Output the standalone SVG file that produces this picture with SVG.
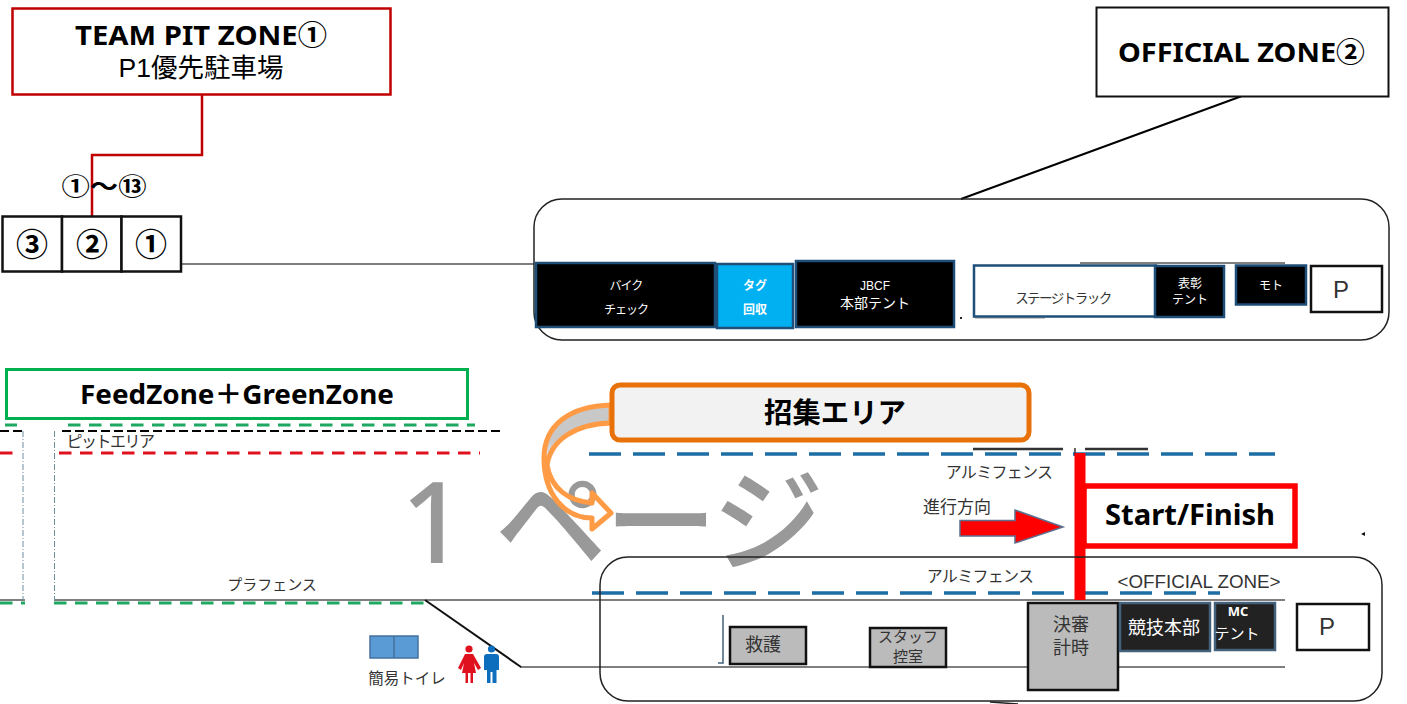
<svg xmlns="http://www.w3.org/2000/svg" width="1407" height="704" viewBox="0 0 1407 704">
<defs><linearGradient id="fade" gradientUnits="userSpaceOnUse" x1="0" y1="440" x2="0" y2="475"><stop offset="0" stop-color="#c8c8c8"/><stop offset="1" stop-color="#c8c8c8" stop-opacity="0"/></linearGradient></defs>
<style>
text{font-family:"Liberation Sans","Noto Sans CJK JP",sans-serif;text-anchor:middle;fill:#000}
.b{font-weight:700;font-family:"Noto Sans","Noto Sans CJK JP",sans-serif}
.w{fill:#fff}
.g{fill:#333}
.l{fill:none;stroke:#555;stroke-width:1.3}
.zone{fill:none;stroke:#222;stroke-width:1.5}
.dk{fill:#000;stroke:#1f4e79;stroke-width:2.5}
.dk2{fill:#222;stroke:#44617b;stroke-width:2.5}
.gr{fill:#bbb;stroke:#111;stroke-width:2.5}
.box{fill:#fff;stroke:#111;stroke-width:2.5}
.bl{fill:none;stroke:#1c6ea4;stroke-width:3.5;stroke-dasharray:32 12}
.gn{fill:none;stroke:#1fa862;stroke-width:3;stroke-dasharray:12.5 8.5}
.rd{fill:none;stroke:#e0111f;stroke-width:3;stroke-dasharray:12.5 8.5}
.kd{fill:none;stroke:#000;stroke-width:1.8;stroke-dasharray:9 4}
.thin{fill:none;stroke:#6f8f9f;stroke-width:1;stroke-dasharray:6 2 1 2}
.s{letter-spacing:-1px}
.m{font-size:16px;letter-spacing:-.7px}
</style>
<g id="watermark"><text y="563" font-size="112" font-weight="500" style="fill:#999;text-anchor:start;font-family:'Noto Sans','Noto Sans CJK JP',sans-serif"><tspan x="401">1</tspan><tspan x="495">ペ</tspan><tspan x="605">ー</tspan><tspan x="712">ジ</tspan></text></g>
<g id="connectors">
<path class="l" d="M181 264H534"/>
<path fill="none" stroke="#c00000" stroke-width="2.5" d="M202 95V155H92V216"/>
<path fill="none" stroke="#000" stroke-width="2" d="M1242 96L961 199"/>
<path class="l" d="M1080 263H1285"/>
<path class="l" d="M0 600H25M54 600H1285"/>
<path class="l" d="M520 667H1285"/>
<path fill="none" stroke="#111" stroke-width="2" d="M425 600L521 667"/>
<path fill="none" stroke="#44617b" stroke-width="1.5" d="M723 615V663H718"/>
<path fill="none" stroke="#222" stroke-width="1.5" d="M990 702L1018 704"/>
<path fill="none" stroke="#888" stroke-width="1" d="M975 318H1045"/>
<path fill="#222" d="M960 317h2v2h-2z"/>
<path class="gn" d="M5 425H17M68 425H475"/>
<path class="kd" d="M0 431H22M62 431H500"/>
<path class="rd" d="M0 453H21M59 453H480"/>
<path class="thin" d="M23 431V600M54.500 431V600"/>
<path class="gn" d="M0 603H25M54 603H424"/>
<path class="bl" d="M589 454H1275"/>
<path class="bl" d="M592 593H1220"/>
<path fill="none" stroke="#333" stroke-width="2.500" d="M973 449H1063M1085 449H1148"/>
<path fill="none" stroke="#333" stroke-width="1.500" d="M1075 448V456"/>
<path fill="none" stroke="#f00" stroke-width="11" d="M1080 453V600"/>
<path fill="#111" d="M1361 534l4-2 0 4z"/>
</g>
<g id="team-pit-zone"><rect x="12.500" y="8.500" width="378" height="86" fill="#fff" stroke="#c00000" stroke-width="2.500"/>
<text class="b" x="201" y="45" font-size="27" textLength="252" lengthAdjust="spacingAndGlyphs">TEAM PIT ZONE①</text><text x="201" y="77" font-size="26.500">P1優先駐車場</text></g>
<g id="official-zone-2"><rect x="1096.500" y="7.500" width="292" height="89" fill="#fff" stroke="#111" stroke-width="2"/>
<text class="b" x="1241.500" y="62" font-size="27" textLength="247" lengthAdjust="spacingAndGlyphs">OFFICIAL ZONE②</text></g>
<g id="range-label"><text class="b" x="104" y="195" font-size="24" textLength="85" lengthAdjust="spacingAndGlyphs">①～⑬</text></g>
<g id="pit-3"><rect x="2.500" y="216.500" width="59.500" height="55" fill="#fff" stroke="#111" stroke-width="2.500"/><text class="b" x="32" y="256" font-size="32">③</text></g>
<g id="pit-2"><rect x="62" y="216.500" width="59.500" height="55" fill="#fff" stroke="#111" stroke-width="2.500"/><text class="b" x="92" y="256" font-size="32">②</text></g>
<g id="pit-1"><rect x="121.500" y="216.500" width="59.500" height="55" fill="#fff" stroke="#111" stroke-width="2.500"/><text class="b" x="151" y="256" font-size="32">①</text></g>
<g id="official-area"><rect class="zone" x="534" y="199" width="855" height="141" rx="28"/></g>
<g id="bike-check"><rect class="dk" x="536" y="263" width="179" height="64"/><text class="w s" x="626" y="290" font-size="12">バイク</text><text class="w s" x="626" y="314" font-size="12">チェック</text></g>
<g id="tag"><rect x="717" y="264" width="76" height="64" fill="#00b0f0" stroke="#1f4e79" stroke-width="2.500"/><text class="w b" x="755" y="290" font-size="12">タグ</text><text class="w b" x="755" y="314" font-size="12">回収</text></g>
<g id="jbcf"><rect class="dk" x="796" y="261" width="158" height="66"/><text class="w" x="875" y="290" font-size="12">JBCF</text><text class="w" x="875" y="308" font-size="14">本部テント</text></g>
<g id="stage"><rect x="974" y="265.500" width="182" height="51" fill="#fff" stroke="#1f4e79" stroke-width="2.500"/><text x="1063" y="303" font-size="13.500" style="letter-spacing:-1.500px" class="g">ステージトラック</text></g>
<g id="hyosho"><rect class="dk" x="1155" y="266" width="69" height="51"/><text class="w" x="1190" y="288" font-size="12">表彰</text><text class="w" x="1190" y="304" font-size="12">テント</text></g>
<g id="moto"><rect class="dk" x="1236" y="265.500" width="70" height="39"/><text class="w" x="1271" y="290" font-size="12">モト</text></g>
<g id="p-top"><rect class="box" x="1311" y="266" width="71" height="46"/><text class="g" x="1341" y="298" font-size="24">P</text></g>
<g id="feedzone"><rect x="6.500" y="369.500" width="461" height="49" fill="#fff" stroke="#00b050" stroke-width="3"/><text class="b" x="237" y="404" font-size="27" textLength="314" lengthAdjust="spacingAndGlyphs">FeedZone＋GreenZone</text></g>
<g id="labels">
<text class="g" x="110" y="447" font-size="16" style="letter-spacing:-1.500px">ピットエリア</text>
<text class="g" x="272" y="590" font-size="15">プラフェンス</text>
<text class="g m" x="999" y="478">アルミフェンス</text>
<text class="g m" x="980" y="582">アルミフェンス</text>
<text class="g" x="957" y="513" font-size="17">進行方向</text>
<text class="g" x="1199" y="588" font-size="18.800">&lt;OFFICIAL ZONE&gt;</text>
<text class="g" x="407" y="684" font-size="15.500">簡易トイレ</text>
</g>
<g id="assembly-arrow"><path fill="url(#fade)" stroke="#ff9a45" stroke-width="5" stroke-linejoin="round" d="M611 405C570 406 544 425 544 458C544 495 565 518 592 518L592 529L611 513L592 493L592 503C570 501 551 490 547 465C551 440 575 424 611 423Z"/></g>
<g id="assembly"><rect x="612" y="385" width="417" height="55" rx="8" fill="#f2f2f2" stroke="#e8710a" stroke-width="5"/><text class="b" x="835" y="423" font-size="28.400">招集エリア</text></g>
<g id="direction-arrow"><path fill="#f00" stroke="#5b6f8f" stroke-width="1.500" d="M960 520.500H1015V510L1063 527L1015 543V536H960Z"/></g>
<g id="start-finish"><rect x="1084" y="486" width="211" height="60" fill="#fff" stroke="#f00" stroke-width="5.500"/><text class="b" x="1190" y="525" font-size="29" textLength="170" lengthAdjust="spacingAndGlyphs">Start/Finish</text></g>
<g id="official-lower"><rect class="zone" x="600" y="557" width="782" height="144" rx="28"/></g>
<g id="rescue"><rect class="gr" x="730" y="627" width="76" height="37"/><text class="g" x="763" y="651" font-size="18">救護</text></g>
<g id="staff"><rect class="gr" x="870" y="628" width="76" height="39"/><text class="g" x="908" y="642" font-size="15">スタッフ</text><text class="g" x="908" y="662" font-size="15">控室</text></g>
<g id="timing"><rect class="gr" x="1028" y="603" width="90" height="87"/><text class="g" x="1071" y="631" font-size="18">決審</text><text class="g" x="1071" y="654" font-size="18">計時</text></g>
<g id="hq"><rect class="dk2" x="1120" y="603" width="90" height="48"/><text class="w" x="1164" y="634" font-size="18">競技本部</text></g>
<g id="mc"><rect class="dk2" x="1215" y="603" width="60" height="47"/><text class="w b" x="1238" y="616" font-size="13">MC</text><text class="w" x="1237" y="639" font-size="15">テント</text></g>
<g id="p-bottom"><rect class="box" x="1297" y="604" width="72" height="46"/><text class="g" x="1327" y="635" font-size="24">P</text></g>
<g id="toilet"><rect x="370" y="636" width="48" height="22" fill="#5b9bd5" stroke="#44719f" stroke-width="1.500"/><path stroke="#44719f" stroke-width="1.500" d="M394 636V658"/></g>
<g id="people">
<circle cx="469" cy="649" r="3.600" fill="#e0111f"/><path fill="#e0111f" d="M465 654H473L481 668L478 670L474 663L476 673H473V683H470.500V673H468V683H465.500V673H462L464 663L461 670L458 668Z"/>
<circle cx="491.500" cy="649" r="3.600" fill="#0d6ebd"/><path fill="#0d6ebd" d="M487 654H496Q499 654 499 657V670H496.500V683H492.500V672H490.500V683H487V670H484V657Q484 654 487 654Z"/>
</g>
</svg>
